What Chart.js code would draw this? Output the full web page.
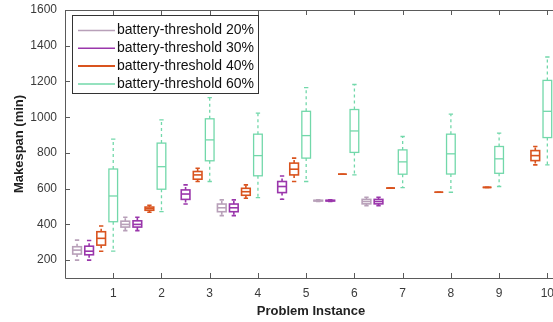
<!DOCTYPE html>
<html>
<head>
<meta charset="utf-8">
<script src="https://cdn.jsdelivr.net/npm/chart.js@4"></script>
<style>
  html, body { margin: 0; padding: 0; background: #fff; overflow: hidden; }
  #wrap { position: relative; width: 560px; height: 322px; }
</style>
</head>
<body>
<div id="wrap"><canvas id="chart"></canvas></div>
<script>
// problem instances on the x axis
const instances = [1, 2, 3, 4, 5, 6, 7, 8, 9, 10];
const yTicks = [200, 400, 600, 800, 1000, 1200, 1400, 1600];

const seriesLabels = ['battery-threshold 20%', 'battery-threshold 30%', 'battery-threshold 40%', 'battery-threshold 60%'];
const seriesColors = ['#b8a0b9', '#9a36ab', '#d9531e', '#72d8aa'];
const seriesOffsets = [-0.75, -0.5, -0.25, 0];

// [min, q1, median, q3, max] per instance, null = no box
const thr20 = [
    [200, 234, 256, 275, 312], [365, 385, 400, 418, 440], null, [449, 471, 493, 514, 537], null,
    [528, 531, 533, 535, 538], [505, 515, 528, 540, 552], null, null, null
];
const thr30 = [
    [200, 230, 250, 278, 310], [365, 385, 400, 420, 440], [514, 540, 570, 593, 621], [449, 471, 493, 514, 537], [541, 578, 612, 640, 671],
    [528, 531, 533, 535, 538], [505, 515, 528, 540, 552], null, null, null
];
const thr40 = [
    [250, 284, 322, 359, 391], [468, 479, 488, 497, 507], [640, 653, 677, 696, 714], [546, 563, 583, 602, 621], [640, 677, 709, 743, 771],
    [681, 681, 681, 681, 681], [603, 603, 603, 603, 603], [580, 580, 580, 580, 580], [607, 607, 607, 607, 607], [733, 757, 785, 813, 836]
];
const thr60 = [
    [250, 415, 559, 710, 877], [471, 597, 723, 855, 985], [640, 756, 873, 991, 1110], [550, 672, 785, 905, 1023], [640, 771, 897, 1033, 1166],
    [677, 803, 923, 1043, 1183], [606, 681, 750, 817, 892], [580, 682, 795, 905, 1017], [612, 686, 767, 836, 911], [733, 886, 1033, 1206, 1337]
];
const allSeries = [thr20, thr30, thr40, thr60];

const BOX_W = 0.18;
const AXIS_COLOR = '#5a5a5a';

const boxPlugin = {
    id: 'boxes',
    afterDatasetsDraw(chart) {
        const { ctx, scales: { x, y } } = chart;
        ctx.save();
        allSeries.forEach((series, s) => {
            ctx.strokeStyle = seriesColors[s];
            ctx.lineWidth = s === 3 ? 1.3 : 1.6;
            series.forEach((b, i) => {
                if (!b) return;
                const pos = instances[i] + seriesOffsets[s];
                const xl = x.getPixelForValue(pos - BOX_W / 2);
                const xr = x.getPixelForValue(pos + BOX_W / 2);
                const xc = x.getPixelForValue(pos);
                const capW = (xr - xl) * 0.25;
                const [mn, q1, md, q3, mx] = b.map(v => y.getPixelForValue(v));
                // whiskers
                ctx.setLineDash([3, 3]);
                ctx.beginPath();
                ctx.moveTo(xc, q3); ctx.lineTo(xc, mx);
                ctx.moveTo(xc, q1); ctx.lineTo(xc, mn);
                ctx.stroke();
                ctx.setLineDash([]);
                ctx.beginPath();
                ctx.moveTo(xc - capW, mx); ctx.lineTo(xc + capW, mx);
                ctx.moveTo(xc - capW, mn); ctx.lineTo(xc + capW, mn);
                ctx.stroke();
                // box + median
                ctx.strokeRect(xl, q3, xr - xl, q1 - q3);
                ctx.beginPath();
                ctx.moveTo(xl, md); ctx.lineTo(xr, md);
                ctx.stroke();
            });
        });
        ctx.restore();
    },
    afterDraw(chart) {
        const { ctx, chartArea: a, scales: { x, y } } = chart;
        ctx.save();
        // frame + inward ticks
        ctx.strokeStyle = AXIS_COLOR;
        ctx.lineWidth = 1;
        ctx.beginPath();
        ctx.moveTo(a.left + 0.5, a.top + 0.5); ctx.lineTo(a.right, a.top + 0.5);
        ctx.moveTo(a.left + 0.5, a.top); ctx.lineTo(a.left + 0.5, a.bottom + 0.5);
        ctx.lineTo(a.right, a.bottom + 0.5);
        instances.forEach(v => {
            const px = Math.round(x.getPixelForValue(v)) + 0.5;
            ctx.moveTo(px, a.bottom); ctx.lineTo(px, a.bottom - 5);
            ctx.moveTo(px, a.top); ctx.lineTo(px, a.top + 5);
        });
        yTicks.forEach(v => {
            const py = Math.round(y.getPixelForValue(v)) + 0.5;
            ctx.moveTo(a.left, py); ctx.lineTo(a.left + 5, py);
        });
        ctx.stroke();

        // legend
        const lx = 72.5, ly = 15.5, lw = 186, lh = 78;
        ctx.fillStyle = '#fff';
        ctx.fillRect(lx, ly, lw, lh);
        ctx.strokeStyle = '#333';
        ctx.strokeRect(lx, ly, lw, lh);
        ctx.font = '14px "Liberation Sans", Arial, sans-serif';
        ctx.textBaseline = 'middle';
        ctx.fillStyle = '#111';
        seriesLabels.forEach((lab, s) => {
            const ry = 30.5 + s * 17.8;
            ctx.strokeStyle = seriesColors[s];
            ctx.lineWidth = s === 2 ? 2 : 1.5;
            ctx.beginPath();
            ctx.moveTo(78, ry); ctx.lineTo(115, ry);
            ctx.stroke();
            ctx.fillText(lab, 117, ry);
        });
        ctx.restore();
    }
};

new Chart(document.getElementById('chart'), {
    type: 'scatter',
    data: { datasets: [] },
    options: {
        responsive: true,
        maintainAspectRatio: false,
        animation: false,
        layout: { padding: { top: 10, right: 3, left: 0, bottom: 0 } },
        plugins: { legend: { display: false }, tooltip: { enabled: false } },
        scales: {
            x: {
                type: 'linear',
                min: 0,
                max: 10.2,
                afterBuildTicks: (s) => { s.ticks = instances.map(v => ({ value: v })); },
                afterFit: (s) => { s.height = 44; },
                grid: { display: false },
                border: { display: false },
                ticks: { color: '#3a3a3a', font: { family: '"Liberation Sans", Arial', size: 12 }, padding: 0, maxRotation: 0 },
                title: {
                    display: true,
                    text: 'Problem Instance',
                    color: '#222',
                    font: { family: '"Liberation Sans", Arial', size: 13, weight: 'bold' },
                    padding: { top: 0, bottom: 3 }
                }
            },
            y: {
                min: 100,
                max: 1600,
                afterBuildTicks: (s) => { s.ticks = yTicks.map(v => ({ value: v })); },
                afterFit: (s) => { s.width = 65; },
                grid: { display: false },
                border: { display: false },
                ticks: {
                    color: '#3a3a3a',
                    font: { family: '"Liberation Sans", Arial', size: 12 },
                    padding: 0,
                    callback: (v) => String(v)
                },
                title: {
                    display: true,
                    text: 'Makespan (min)',
                    color: '#222',
                    font: { family: '"Liberation Sans", Arial', size: 13, weight: 'bold' },
                    padding: { top: 12, bottom: 0 }
                }
            }
        }
    },
    plugins: [boxPlugin]
});
</script>
</body>
</html>
